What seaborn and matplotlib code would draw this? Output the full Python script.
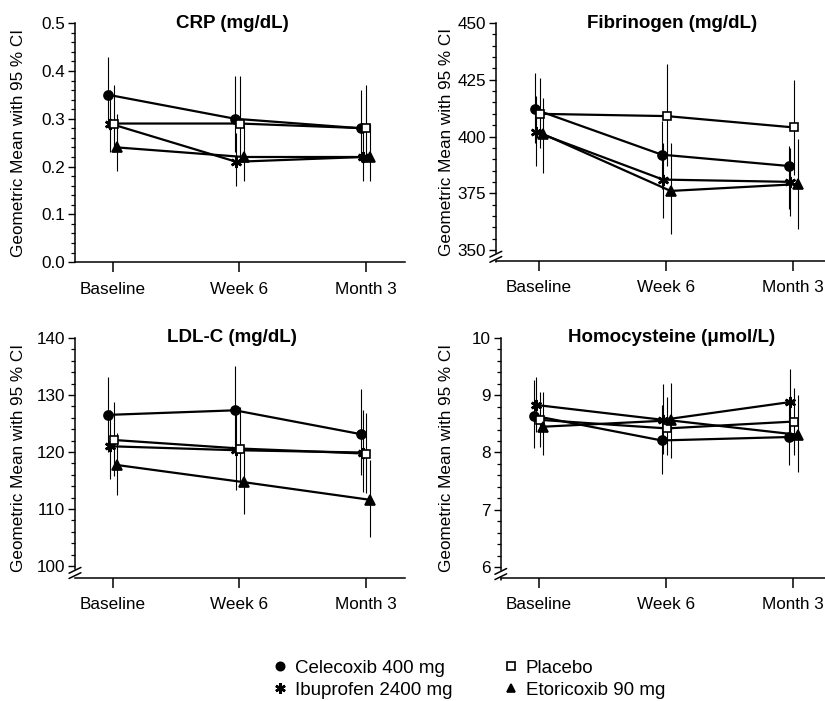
import numpy as np
import pandas as pd
import matplotlib
matplotlib.use("Agg")
import matplotlib.pyplot as plt
from matplotlib.lines import Line2D
from matplotlib.ticker import MultipleLocator
import seaborn as sns

# ---- data ----
visits = ["Baseline", "Week 6", "Month 3"]
drugs = ["Celecoxib 400 mg", "Ibuprofen 2400 mg", "Placebo", "Etoricoxib 90 mg"]

crp_mean = {"Celecoxib 400 mg": [0.35, 0.30, 0.28], "Ibuprofen 2400 mg": [0.29, 0.21, 0.22],
            "Placebo": [0.29, 0.29, 0.28], "Etoricoxib 90 mg": [0.24, 0.22, 0.22]}
crp_lo = {"Celecoxib 400 mg": [0.28, 0.23, 0.21], "Ibuprofen 2400 mg": [0.23, 0.16, 0.17],
          "Placebo": [0.23, 0.22, 0.21], "Etoricoxib 90 mg": [0.19, 0.17, 0.17]}
crp_hi = {"Celecoxib 400 mg": [0.43, 0.39, 0.36], "Ibuprofen 2400 mg": [0.36, 0.27, 0.29],
          "Placebo": [0.37, 0.39, 0.37], "Etoricoxib 90 mg": [0.31, 0.29, 0.29]}

fib_mean = {"Celecoxib 400 mg": [412, 392, 387], "Ibuprofen 2400 mg": [402, 381, 380],
            "Placebo": [410, 409, 404], "Etoricoxib 90 mg": [401, 376, 379]}
fib_lo = {"Celecoxib 400 mg": [397, 377, 368], "Ibuprofen 2400 mg": [387, 364, 365],
          "Placebo": [395, 387, 383], "Etoricoxib 90 mg": [384, 357, 359]}
fib_hi = {"Celecoxib 400 mg": [428, 407, 396], "Ibuprofen 2400 mg": [418, 397, 395],
          "Placebo": [426, 432, 425], "Etoricoxib 90 mg": [417, 397, 399]}

ldl_mean = {"Celecoxib 400 mg": [126.5, 127.3, 123.1], "Ibuprofen 2400 mg": [121.0, 120.3, 119.9],
            "Placebo": [122.1, 120.6, 119.7], "Etoricoxib 90 mg": [117.7, 114.7, 111.6]}
ldl_lo = {"Celecoxib 400 mg": [120.0, 119.8, 116.0], "Ibuprofen 2400 mg": [115.2, 113.4, 113.0],
          "Placebo": [115.8, 113.8, 112.8], "Etoricoxib 90 mg": [112.4, 109.2, 105.0]}
ldl_hi = {"Celecoxib 400 mg": [133.1, 135.1, 131.0], "Ibuprofen 2400 mg": [127.3, 127.4, 127.4],
          "Placebo": [128.8, 127.8, 126.9], "Etoricoxib 90 mg": [123.3, 120.6, 118.5]}

hcy_mean = {"Celecoxib 400 mg": [8.64, 8.21, 8.27], "Ibuprofen 2400 mg": [8.83, 8.57, 8.88],
            "Placebo": [8.57, 8.42, 8.54], "Etoricoxib 90 mg": [8.45, 8.56, 8.31]}
hcy_lo = {"Celecoxib 400 mg": [8.07, 7.63, 7.78], "Ibuprofen 2400 mg": [8.36, 7.98, 8.35],
          "Placebo": [8.10, 7.95, 7.96], "Etoricoxib 90 mg": [7.96, 7.90, 7.66]}
hcy_hi = {"Celecoxib 400 mg": [9.27, 8.82, 8.80], "Ibuprofen 2400 mg": [9.31, 9.19, 9.46],
          "Placebo": [9.06, 8.97, 9.13], "Etoricoxib 90 mg": [9.05, 9.21, 9.00]}

# small horizontal dodge per treatment (in category units)
dodge = {"Celecoxib 400 mg": -0.035, "Ibuprofen 2400 mg": -0.025, "Placebo": 0.005, "Etoricoxib 90 mg": 0.035}
markers = {"Celecoxib 400 mg": "o", "Ibuprofen 2400 mg": (6, 2, 0), "Placebo": "s", "Etoricoxib 90 mg": "^"}
msize = {"Celecoxib 400 mg": 6.5, "Ibuprofen 2400 mg": 8, "Placebo": 6, "Etoricoxib 90 mg": 6.5}
mface = {"Celecoxib 400 mg": "black", "Ibuprofen 2400 mg": "black", "Placebo": "white", "Etoricoxib 90 mg": "black"}

panels = [
    # title, mean, lo, hi, ylim, major, minor, break, axes rect, xlim, title_x, ylabel_x
    ("CRP (mg/dL)", crp_mean, crp_lo, crp_hi, (0.0, 0.5), 0.1, 0.02, False,
     [0.0909, 0.626, 0.4, 0.341], (-0.30, 2.31), 0.476, -0.149),
    ("Fibrinogen (mg/dL)", fib_mean, fib_lo, fib_hi, (345.2, 450), 25, 5, True,
     [0.601, 0.628, 0.399, 0.339], (-0.34, 2.25), 0.535, -0.128),
    ("LDL-C (mg/dL)", ldl_mean, ldl_lo, ldl_hi, (97.9, 140), 10, 2, True,
     [0.0909, 0.1755, 0.4, 0.3425], (-0.30, 2.31), 0.476, -0.149),
    ("Homocysteine (\u03bcmol/L)", hcy_mean, hcy_lo, hcy_hi, (5.81, 10), 1, 0.2, True,
     [0.607, 0.1755, 0.393, 0.3425], (-0.30, 2.25), 0.528, -0.145),
]

sns.set_theme(style="ticks")
plt.rcParams["font.family"] = ["Liberation Sans", "DejaVu Sans"]

fig = plt.figure(figsize=(8.25, 7.01), dpi=100)

for title, mean, lo, hi, ylim, major, minor, has_break, rect, xlim, tx, lx in panels:
    ax = fig.add_axes(rect)

    rows = []
    for d in drugs:
        for i, v in enumerate(visits):
            rows.append({"drug": d, "pos": i + dodge[d], "mean": mean[d][i],
                         "lo": lo[d][i], "hi": hi[d][i]})
    df = pd.DataFrame(rows)

    # CI bars first so the lines/markers sit on top
    ax.vlines(df["pos"], df["lo"], df["hi"], color="black", lw=0.8, zorder=1)

    for d in drugs:
        sub = df[df["drug"] == d]
        sns.lineplot(data=sub, x="pos", y="mean", ax=ax, color="black", lw=1.6,
                     marker=markers[d], markersize=msize[d], markerfacecolor=mface[d],
                     markeredgecolor="black", markeredgewidth=1.2 if d != "Ibuprofen 2400 mg" else 1.8,
                     legend=False, zorder=3)

    ax.set_xlim(*xlim)
    ax.set_ylim(*ylim)
    ax.set_xticks(range(len(visits)))
    ax.set_xticklabels(visits)
    ax.yaxis.set_major_locator(MultipleLocator(major))
    ax.yaxis.set_minor_locator(MultipleLocator(minor))
    if title.startswith("CRP"):
        ax.yaxis.set_major_formatter(matplotlib.ticker.FormatStrFormatter("%.1f"))
    else:
        ax.yaxis.set_major_formatter(matplotlib.ticker.FormatStrFormatter("%d"))

    ax.set_xlabel("")
    ax.set_ylabel("Geometric Mean with 95 % CI", fontsize=12.3, color="black")
    ax.yaxis.set_label_coords(lx, 0.5)

    for s in ["top", "right"]:
        ax.spines[s].set_visible(False)
    for s in ["left", "bottom"]:
        ax.spines[s].set_linewidth(1.1)
        ax.spines[s].set_color("black")

    ax.tick_params(axis="x", which="major", length=7, width=1.1, labelsize=12.3, colors="black", pad=7)
    ax.tick_params(axis="y", which="major", length=5, width=1.0, labelsize=12.3, colors="black", pad=2)
    ax.tick_params(axis="y", which="minor", length=3, width=0.9, colors="black")
    ax.tick_params(axis="x", which="minor", length=0)

    if has_break:
        y0 = ylim[0]
        span = ylim[1] - ylim[0]
        low_tick = np.ceil(y0 / major) * major
        # shorten left spine and add the '//' axis break
        ax.spines["left"].set_bounds(low_tick - 0.012 * span, ylim[1])
        trans = ax.get_yaxis_transform()
        for k in (0.018, 0.040):
            yb = low_tick - k * span
            ax.plot([-0.018, 0.018], [yb - 0.012 * span, yb + 0.012 * span],
                    transform=trans, color="black", lw=1.1, clip_on=False, zorder=5)
        ax.plot([0, 0], [y0, low_tick - 0.052 * span], transform=trans,
                color="black", lw=1.1, clip_on=False, zorder=5)
        minor_ticks = [t for t in np.arange(low_tick, ylim[1] + 1e-9, minor)]
        ax.yaxis.set_minor_locator(matplotlib.ticker.FixedLocator(minor_ticks))

    ax.text(tx, 1.0, title, transform=ax.transAxes, ha="center", va="center",
            fontsize=13.5, fontweight="bold", color="black")

# shared legend at the bottom
handles = []
for d in drugs:
    handles.append(Line2D([], [], linestyle="none", marker=markers[d], markersize=msize[d] - 0.5,
                          markerfacecolor=mface[d], markeredgecolor="black",
                          markeredgewidth=1.2 if d != "Ibuprofen 2400 mg" else 1.8))
fig.legend(handles, drugs, loc="center", bbox_to_anchor=(0.567, 0.031), ncol=2,
           frameon=False, fontsize=13.5, handletextpad=0.3, columnspacing=2.6,
           labelspacing=0.25, handlelength=1.0, labelcolor="black")

fig.savefig("out.png", dpi=100, facecolor="white")
